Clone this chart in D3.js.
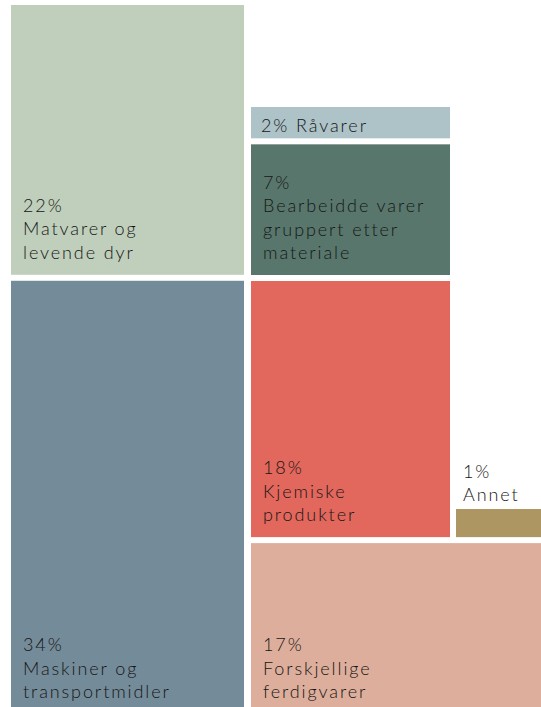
<!DOCTYPE html>
<html>
<head>
<meta charset="utf-8">
<script src="https://cdn.jsdelivr.net/npm/d3@7"></script>
<style>
  html, body { margin: 0; padding: 0; background: #fff; }
  svg { display: block; }
  .lbl { font-family: Lato, "Open Sans", sans-serif; font-weight: 300; font-size: 18px; letter-spacing: 1.9px; fill: #161616; }
</style>
</head>
<body>
<div id="chart"></div>
<script>
// Eksport fordelt på varegrupper (andel i prosent)
const categories = [
    "Matvarer og levende dyr",
    "Maskiner og transportmidler",
    "Råvarer",
    "Bearbeidde varer gruppert etter materiale",
    "Kjemiske produkter",
    "Annet",
    "Forskjellige ferdigvarer"
];
const shares = [22, 34, 2, 7, 18, 1, 17];
const labelLines = [
    ["Matvarer og", "levende dyr"],
    ["Maskiner og", "transportmidler"],
    ["Råvarer"],
    ["Bearbeidde varer", "gruppert etter", "materiale"],
    ["Kjemiske", "produkter"],
    ["Annet"],
    ["Forskjellige", "ferdigvarer"]
];
const colors = ["#bfcfbb", "#748b99", "#adc3c8", "#58766c", "#e2675c", "#ad9662", "#ddae9b"];

const width = 541, height = 707;
const gapY = 6, lineH = 23.5;

const data = categories.map((c, i) => ({ name: c, value: shares[i], lines: labelLines[i], color: colors[i] }));
const byName = new Map(data.map(d => [d.name, d]));

// hand-made mosaic template: blocks of rows, each row holds one or two cells
const blocks = [
    { x: [11, 244], y: [5, 707], rows: [[categories[0]], [categories[1]]] },
    { x: [251, 450], y: [107, 275], rows: [[categories[2]], [categories[3]]] },
    { x: [251, 541], y: [281, 713], rows: [[categories[4], categories[5]], [categories[6]]], split: 456 }
];

const cells = [];
blocks.forEach(b => {
    const colX = row => row.length === 2
        ? [[b.x[0], b.split - 6], [b.split, b.x[1]]]
        : [[b.x[0], b.x[1]]];

    // row weight = value / width of the leading cell (area proportional)
    const weights = b.rows.map(row => {
        const [x0, x1] = colX(row)[0];
        return byName.get(row[0]).value / (x1 - x0);
    });
    const y = d3.scaleLinear()
        .domain([0, d3.sum(weights)])
        .range(b.y);

    let acc = 0;
    b.rows.forEach((row, ri) => {
        const last = ri === b.rows.length - 1;
        const top = y(acc);
        const bottom = y(acc + weights[ri]) - (last ? 0 : gapY);
        row.forEach((name, ci) => {
            const d = byName.get(name);
            const [x0, x1] = colX(row)[ci];
            let y0 = top;
            if (ci > 0) {
                // secondary cell sits at the bottom of the row, same area scale
                const w = d.value / (x1 - x0);
                y0 = bottom - (y(acc + w) - y(acc)) + gapY;
            }
            cells.push({ ...d, x0, x1, y0, y1: bottom, outside: ci > 0 });
        });
        acc += weights[ri];
    });
});

const svg = d3.select("#chart").append("svg")
    .attr("width", width)
    .attr("height", height);

svg.selectAll("rect.cell")
    .data(cells)
    .enter()
    .append("rect")
    .attr("class", "cell")
    .attr("x", d => d.x0)
    .attr("y", d => d.y0)
    .attr("width", d => d.x1 - d.x0)
    .attr("height", d => d.y1 - d.y0)
    .attr("fill", d => d.color);

const labels = svg.selectAll("text.lbl")
    .data(cells)
    .enter()
    .append("text")
    .attr("class", "lbl");

labels.each(function(d) {
    const t = d3.select(this);
    const h = d.y1 - d.y0;
    let lines, x, lastBase;
    if (d.outside) {
        lines = [d.value + "%"].concat(d.lines);
        x = d.x0 + 7;
        lastBase = d.y0 - 8;
    } else if (h < 45) {
        lines = [d.value + "% " + d.lines.join(" ")];
        x = d.x0 + 10;
        lastBase = (d.y0 + d.y1) / 2 + 9;
    } else {
        lines = [d.value + "%"].concat(d.lines);
        x = d.x0 + 12;
        // cells running off the bottom edge keep their text just above it
        lastBase = d.y1 >= height ? height - 9 : d.y1 - 16;
    }
    lines.forEach((l, i) => {
        t.append("tspan")
            .attr("x", x)
            .attr("y", lastBase - (lines.length - 1 - i) * lineH)
            .text(l);
    });
});
</script>
</body>
</html>
